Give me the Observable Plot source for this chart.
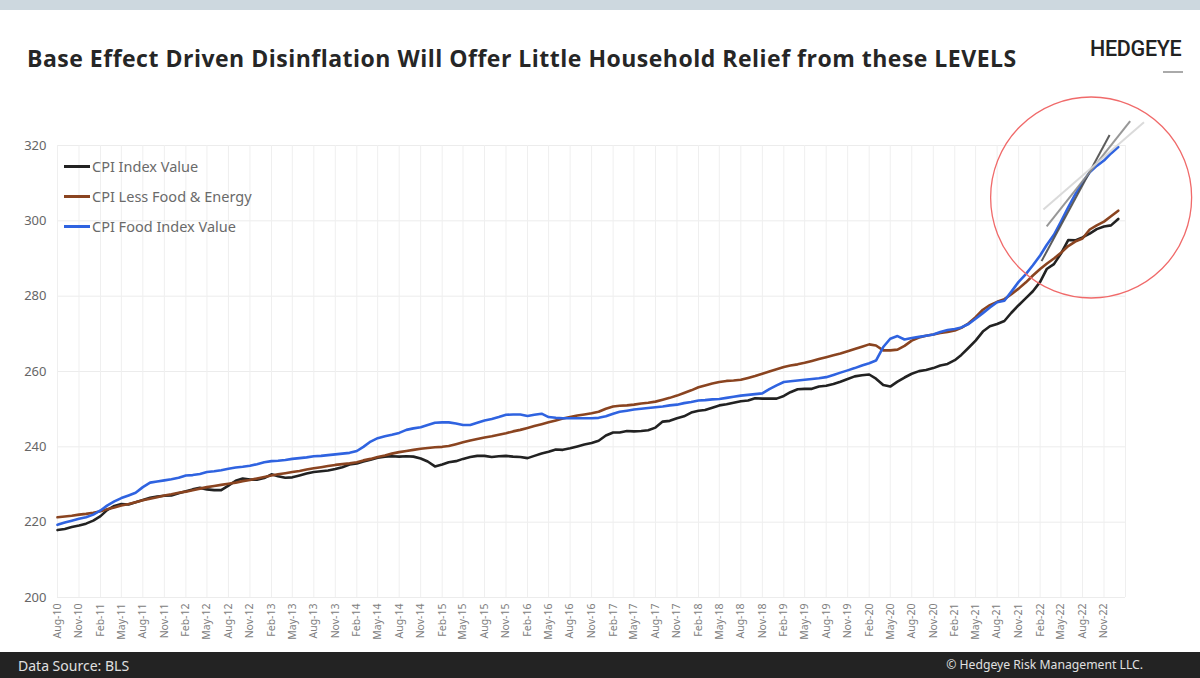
<!DOCTYPE html>
<html><head><meta charset="utf-8">
<script src="https://cdn.jsdelivr.net/npm/d3@7"></script>
<script src="https://cdn.jsdelivr.net/npm/@observablehq/plot@0.6"></script>
<style>
body{margin:0;background:#fff;}
#wrap{position:relative;width:1200px;height:678px;overflow:hidden;background:#fff;font-family:"Noto Sans",sans-serif;}
#band{position:absolute;left:0;top:0;width:1200px;height:10px;background:#cdd8df;}
#title{position:absolute;left:27px;top:42px;font-family:"Open Sans",sans-serif;font-weight:700;font-size:23px;color:#262626;white-space:nowrap;letter-spacing:0.5px;}
#logo{position:absolute;left:1090px;top:36px;font-family:Roboto,sans-serif;font-weight:500;font-size:21.5px;color:#222;letter-spacing:-0.3px;}
#logoline{position:absolute;left:1163px;top:71px;width:20px;height:2px;background:#aaa;}
#chart{position:absolute;left:0;top:0;}
#legend{position:absolute;left:64px;top:151px;font-family:"Noto Sans",sans-serif;font-size:14.5px;color:#6a6a6a;}
#legend .row{display:flex;align-items:center;height:30px;}
#legend .sw{width:26px;height:3px;margin-right:2px;}
#footer{position:absolute;left:0;top:652px;width:1200px;height:26px;background:#232323;color:#e0e0e0;font-family:"Noto Sans",sans-serif;}
#footer .l{position:absolute;left:18px;top:4px;font-size:14px;}
#footer .r{position:absolute;right:57px;top:4px;font-size:12.2px;}
</style></head>
<body>
<div id="wrap">
  <div id="band"></div>
  <div id="title">Base Effect Driven Disinflation Will Offer Little Household Relief from these LEVELS</div>
  <div id="logo">HEDGEYE</div>
  <div id="logoline"></div>
  <div id="chart"></div>
  <div id="legend"></div>
  <div id="footer"><span class="l">Data Source: BLS</span><span class="r">© Hedgeye Risk Management LLC.</span></div>
</div>
<script>
// ---- Data (monthly, Aug 2010 – Jan 2023) ----
const startMonth = "2010-08-01";
const endMonth = "2023-01-01";
const seriesNames = ["CPI Index Value", "CPI Less Food & Energy", "CPI Food Index Value"];
const seriesColors = ["#222222", "#8a4420", "#2f63e0"];

const cpiIndex = [
  217.9, 218.2, 218.7, 219.1, 219.6,
  220.4, 221.6, 223.2, 224.3, 224.8, 224.7, 225.3, 225.9, 226.5, 226.8, 227.0, 227.1,
  227.7, 228.2, 228.7, 229.1, 228.7, 228.5, 228.5, 229.7, 231.0, 231.6, 231.3, 231.3,
  231.7, 232.7, 232.2, 231.8, 231.9, 232.4, 232.9, 233.3, 233.5, 233.7, 234.1, 234.6,
  235.3, 235.6, 236.1, 236.6, 237.1, 237.4, 237.5, 237.4, 237.5, 237.4, 236.9, 236.1,
  234.8, 235.3, 235.9, 236.2, 236.8, 237.3, 237.6, 237.6, 237.3, 237.5, 237.6, 237.4,
  237.3, 237.0, 237.6, 238.2, 238.7, 239.3, 239.2, 239.6, 240.1, 240.6, 241.0, 241.6,
  243.0, 243.8, 243.8, 244.2, 244.1, 244.2, 244.4, 245.1, 246.7, 246.9, 247.6, 248.1,
  249.1, 249.6, 249.8, 250.4, 251.0, 251.3, 251.7, 252.1, 252.3, 252.9, 252.8, 252.8,
  252.8, 253.5, 254.5, 255.3, 255.4, 255.4, 256.0, 256.2, 256.7, 257.3, 258.0, 258.7,
  259.0, 259.2, 258.1, 256.4, 256.0, 257.3, 258.4, 259.4, 260.1, 260.4, 260.9, 261.6,
  262.0, 263.0, 264.4, 266.3, 268.2, 270.6, 272.0, 272.6, 273.4, 275.6, 277.6, 279.4,
  281.3, 283.8, 287.2, 288.5, 291.3, 294.9, 294.8, 295.6, 296.6, 297.8, 298.5, 298.8,
  300.5
];
const cpiCore = [
  221.3, 221.5, 221.7, 222.0, 222.2,
  222.5, 222.9, 223.4, 223.9, 224.4, 224.8, 225.3, 225.8, 226.2, 226.6, 227.1, 227.4,
  227.8, 228.1, 228.5, 228.9, 229.3, 229.6, 229.9, 230.2, 230.5, 230.9, 231.2, 231.6,
  232.0, 232.4, 232.7, 233.0, 233.3, 233.6, 234.0, 234.3, 234.6, 234.9, 235.2, 235.4,
  235.6, 235.9, 236.4, 236.8, 237.3, 237.7, 238.2, 238.6, 238.9, 239.2, 239.5, 239.7,
  239.9, 240.0, 240.2, 240.7, 241.2, 241.7, 242.1, 242.5, 242.8, 243.2, 243.6, 244.1,
  244.5, 245.0, 245.5, 246.0, 246.5, 247.0, 247.5, 247.9, 248.3, 248.6, 248.9, 249.3,
  250.1, 250.7, 250.9, 251.0, 251.2, 251.5, 251.7, 252.0, 252.5, 253.0, 253.6, 254.3,
  255.0, 255.8, 256.3, 256.8, 257.2, 257.5, 257.6, 257.8, 258.3, 258.8, 259.4, 260.0,
  260.6, 261.2, 261.6, 261.9, 262.3, 262.8, 263.3, 263.8, 264.3, 264.8, 265.4, 266.0,
  266.6, 267.2, 266.9, 265.6, 265.6, 265.8, 266.8, 268.2, 269.0, 269.5, 269.8, 270.2,
  270.5, 270.9, 271.6, 272.8, 274.4, 276.4, 277.6, 278.5, 279.2, 280.5, 282.0, 283.6,
  285.5, 287.2, 288.6, 290.0, 291.5, 293.3, 294.5, 295.3, 297.7, 298.8, 299.8, 301.2,
  302.7
];
const cpiFood = [
  219.3, 219.9, 220.4, 220.9, 221.3,
  222.0, 223.1, 224.4, 225.5, 226.4, 227.1, 227.8, 229.3, 230.5, 230.8, 231.1, 231.4,
  231.8, 232.4, 232.5, 232.8, 233.3, 233.5, 233.8, 234.2, 234.5, 234.7, 235.0, 235.4,
  235.9, 236.2, 236.3, 236.5, 236.8, 237.0, 237.2, 237.5, 237.6, 237.8, 238.0, 238.2,
  238.4, 238.9, 240.0, 241.4, 242.3, 242.8, 243.2, 243.7, 244.5, 244.9, 245.2, 245.8,
  246.4, 246.5, 246.5, 246.2, 245.8, 245.8, 246.4, 247.0, 247.4, 247.9, 248.5, 248.6,
  248.6, 248.2, 248.5, 248.8, 247.9, 247.7, 247.6, 247.6, 247.6, 247.6, 247.6, 247.7,
  248.1, 248.8, 249.3, 249.6, 249.9, 250.1, 250.3, 250.5, 250.7, 251.0, 251.2, 251.6,
  251.9, 252.3, 252.4, 252.6, 252.7, 253.0, 253.3, 253.6, 253.8, 254.0, 254.2, 255.3,
  256.3, 257.2, 257.4, 257.6, 257.8, 258.0, 258.2, 258.5, 259.1, 259.7, 260.3, 260.9,
  261.6, 262.2, 262.9, 266.5, 268.7, 269.4, 268.5, 268.9, 269.2, 269.5, 269.8, 270.5,
  271.0, 271.3, 271.7, 272.6, 274.0, 275.5, 277.0, 278.4, 278.8, 281.2, 283.8, 285.8,
  288.2, 290.8, 293.6, 296.3, 299.8, 303.6, 307.0, 310.1, 312.9, 314.6, 316.0, 317.9,
  319.6
];
const yTicks = [200, 220, 240, 260, 280, 300, 320];
const xTickFormat = "%b-%y";
const xTickStart = "2010-08-01";
const xTickEnd = "2022-12-01";

// annotation: trend lines and highlight circle (data coordinates)
const trendLines = [
  {x1: "2022-02-07", y1: 289.3, x2: "2022-11-25", y2: 322.8, color: "#4a4a4a"},
  {x1: "2022-03-01", y1: 298.5, x2: "2023-02-21", y2: 326.5, color: "#8c8c8c"},
  {x1: "2022-02-15", y1: 303.0, x2: "2023-04-21", y2: 326.2, color: "#d6d6d6"}
];
const circleCenter = {x: "2022-09-07", y: 306.2};

// ---- build ----
const months = d3.utcMonth.range(new Date(startMonth), d3.utcMonth.offset(new Date(endMonth), 1));
const seriesValues = [cpiIndex, cpiCore, cpiFood];
const rows = [];
seriesValues.forEach((vals, s) => vals.forEach((v, i) => rows.push({date: months[i], value: v, series: seriesNames[s]})));
const xTicks = d3.utcMonth.range(new Date(xTickStart), new Date(xTickEnd), 3);
const trend = trendLines.map(d => ({...d, x1: new Date(d.x1), x2: new Date(d.x2)}));
const circ = [{x: new Date(circleCenter.x), y: circleCenter.y}];

const chart = Plot.plot({
  width: 1200,
  height: 652,
  marginTop: 145,
  marginBottom: 55,
  marginLeft: 57,
  marginRight: 75,
  style: {fontFamily: "Noto Sans, sans-serif", background: "transparent"},
  x: {type: "utc", domain: [new Date("2010-08-01"), new Date("2023-02-01")]},
  y: {domain: [200, 320]},
  color: {domain: seriesNames, range: seriesColors},
  marks: [
    Plot.gridY(yTicks, {stroke: "#ececec", strokeOpacity: 1}),
    Plot.gridX(xTicks, {stroke: "#efefef", strokeOpacity: 1}),
    Plot.ruleX([new Date("2023-02-01")], {stroke: "#efefef"}),
    Plot.axisY(yTicks, {tickSize: 0, tickPadding: 11, fontSize: 13, fill: "#666", label: null}),
    Plot.axisX(xTicks, {tickSize: 0, tickPadding: 6, tickRotate: -90, tickFormat: d3.utcFormat(xTickFormat), fontSize: 10.5, fill: "#808080", label: null}),
    Plot.line(rows, {x: "date", y: "value", z: "series", stroke: "series", strokeWidth: 2.6, curve: "linear"}),
    Plot.link(trend, {x1: "x1", y1: "y1", x2: "x2", y2: "y2", stroke: "color", strokeWidth: 2, strokeOpacity: 0.9}),
    Plot.dot(circ, {x: "x", y: "y", r: 100.5, stroke: "#f06a6a", strokeWidth: 1.3, fill: "none"})
  ]
});
document.getElementById("chart").appendChild(chart);

// legend
const leg = document.getElementById("legend");
seriesNames.forEach((n, i) => {
  const r = document.createElement("div"); r.className = "row";
  const sw = document.createElement("div"); sw.className = "sw"; sw.style.background = seriesColors[i];
  const t = document.createElement("span"); t.textContent = n;
  r.appendChild(sw); r.appendChild(t); leg.appendChild(r);
});
</script>
</body></html>
